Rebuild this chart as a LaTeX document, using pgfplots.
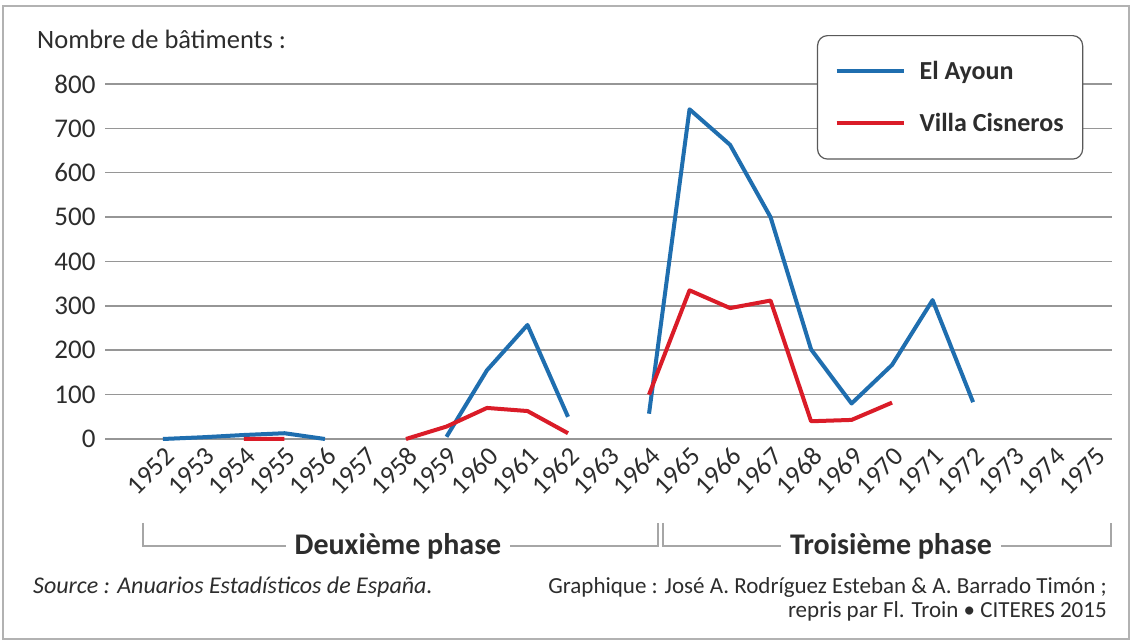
\documentclass[border=0pt]{standalone}
\usepackage{pgfplots}
\pgfplotsset{compat=1.18}
\usepackage{fontspec}
\setmainfont{Carlito}
\definecolor{ayoun}{RGB}{31,110,175}
\definecolor{cisneros}{RGB}{218,28,40}
\definecolor{gridc}{RGB}{150,150,150}
\definecolor{txt}{RGB}{45,45,45}
\begin{document}
\begin{tikzpicture}[x=1pt,y=1pt]
\useasboundingbox (0,0) rectangle (1132,644);
\fill[white] (0,0) rectangle (1132,644);
\draw[gray!60, line width=1.5pt] (3,5) rectangle (1129,638);
\begin{axis}[
  at={(105pt,205pt)}, anchor=south west, scale only axis,
  width=1007pt, height=355pt,
  xmin=-1.43, xmax=23.43, ymin=0, ymax=800,
  clip=false,
  axis line style={draw=none},
  major tick length=0pt,
  ytick={0,100,...,800},
  xtick={0,...,23},
  xticklabel={\pgfmathtruncatemacro\yr{1952+\tick}\yr},
  /pgf/number format/assume math mode=true,
  ymajorgrids,
  grid style={gridc, line width=1.5pt},
  yticklabel style={font=\fontsize{27}{30}\selectfont, text=txt, anchor=east, xshift=-6pt},
  xticklabel style={font=\fontsize{26.5}{30}\selectfont, text=txt, rotate=45, anchor=east, xshift=-1pt, yshift=-14pt},
  unbounded coords=jump,
  legend cell align=left,
  legend image code/.code={\draw[#1] (0pt,0pt) -- (67pt,0pt);},
  legend style={at={(0.707,1.138)}, anchor=north west, draw=black!65, line width=1.2pt,
    rounded corners=10pt, fill=white, font=\bfseries\fontsize{26}{30}\selectfont,
    text=txt, inner xsep=17pt, inner ysep=24pt, row sep=28pt,
    /tikz/every odd column/.append style={column sep=12pt}},
]
\addplot[ayoun, line width=4pt, line join=round] coordinates {
 (0,0) (1,4) (2,9) (3,13) (4,0) (5,nan)
 (7,5) (8,155) (9,257) (10,50) (11,nan)
 (12,57) (13,743) (14,663) (15,500) (16,202) (17,80) (18,167) (19,313) (20,83)
};
\addlegendentry{El Ayoun}
\addplot[cisneros, line width=4pt, line join=round] coordinates {
 (2,0) (3,0) (4,nan)
 (6,0) (7,28) (8,70) (9,63) (10,13) (11,nan)
 (12,100) (13,335) (14,295) (15,312) (16,40) (17,43) (18,82)
};
\addlegendentry{Villa Cisneros}
\end{axis}
\node[anchor=base west, font=\fontsize{26.5}{30}\selectfont, text=txt, inner sep=0pt] at (37,595) {Nombre de bâtiments :};
\draw[gray!70, line width=1.5pt] (143,121) -- (143,98) -- (658,98) -- (658,121);
\draw[gray!70, line width=1.5pt] (663,121) -- (663,98) -- (1111,98) -- (1111,121);
\node[fill=white, font=\bfseries\fontsize{30}{32}\selectfont, text=txt, inner xsep=9pt, inner ysep=3pt] at (398,98) {Deuxième phase};
\node[fill=white, font=\bfseries\fontsize{30}{32}\selectfont, text=txt, inner xsep=9pt, inner ysep=3pt] at (891,98) {Troisième phase};
\node[anchor=base west, font=\itshape\fontsize{24}{28}\selectfont, text=txt, inner sep=0pt] at (33,50) {Source : Anuarios Estadísticos de España.};
\node[anchor=base east, font=\fontsize{23}{27}\selectfont, text=txt, inner sep=0pt] at (1107,50) {Graphique : José A. Rodríguez Esteban \& A. Barrado Timón ;};
\node[anchor=base east, font=\fontsize{23}{27}\selectfont, text=txt, inner sep=0pt] at (1107,26) {repris par Fl. Troin • CITERES 2015};
\end{tikzpicture}
\end{document}
